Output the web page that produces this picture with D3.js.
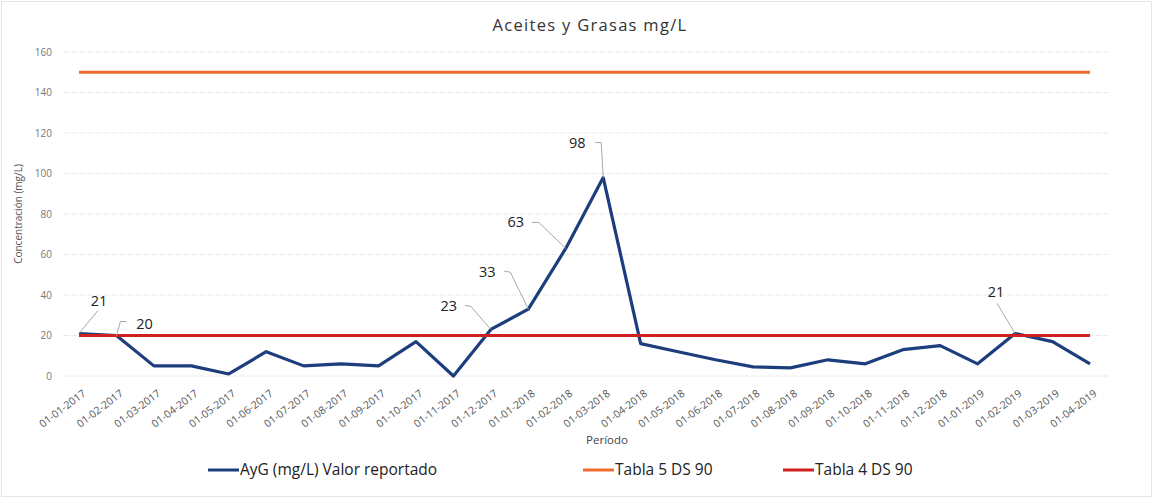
<!DOCTYPE html>
<html><head><meta charset="utf-8">
<script src="https://cdn.jsdelivr.net/npm/d3@7"></script>
<style>
body{margin:0;background:#fff;}
svg{display:block;font-family:"Open Sans",sans-serif;}
</style>
</head><body>
<svg id="chart" width="1161" height="504"></svg>
<script>
// ---- data ----
const periods = ["01-01-2017","01-02-2017","01-03-2017","01-04-2017","01-05-2017","01-06-2017","01-07-2017","01-08-2017","01-09-2017","01-10-2017","01-11-2017","01-12-2017","01-01-2018","01-02-2018","01-03-2018","01-04-2018","01-05-2018","01-06-2018","01-07-2018","01-08-2018","01-09-2018","01-10-2018","01-11-2018","01-12-2018","01-01-2019","01-02-2019","01-03-2019","01-04-2019"];
const aygValues = [21,20,5,5,1,12,5,6,5,17,0,23,33,63,98,16,12,8,4.5,4,8,6,13,15,6,21,17,6];
const tabla5Value = 150;
const tabla4Value = 20;
const yTicks = [0,20,40,60,80,100,120,140,160];
const labeledPoints = [0,1,11,12,13,14,25];
const seriesNames = ["AyG (mg/L) Valor reportado","Tabla 5 DS 90","Tabla 4 DS 90"];
const titleText = "Aceites y Grasas mg/L";
const xTitle = "Período";
const yTitle = "Concentración (mg/L)";

// ---- layout ----
const colors = {ayg:"#1d3e7c", t5:"#ee6b2d", t4:"#cf1f1f"};
const svg = d3.select("#chart");
const x = d3.scalePoint().domain(periods).range([79,1090]);
const y = d3.scaleLinear().domain([0,160]).range([376,52]);

// label layout: text centre offset, leader start, elbow (relative to point)
const labelLayout = {
  0:{tx:20,ty:-32,lx:19,ly:-23,ex:19,ey:-23},
  1:{tx:28,ty:-12,lx:10,ly:-14,ex:4,ey:-14},
  11:{tx:-42,ty:-23,lx:-26,ly:-24,ex:-20,ey:-23},
  12:{tx:-41,ty:-37,lx:-24,ly:-38,ex:-18,ey:-37},
  13:{tx:-50,ty:-26,lx:-34,ly:-26,ex:-27,ey:-26},
  14:{tx:-26,ty:-35,lx:-8,ly:-35,ex:-2,ey:-35},
  25:{tx:-19,ty:-41,lx:-18,ly:-30,ex:-18,ey:-30}
};

// border
svg.append("rect").attr("x",1.5).attr("y",1.5).attr("width",1150).attr("height",495)
  .attr("fill","none").attr("stroke","#e6e6e6");

// grid
svg.append("g").selectAll("line").data(yTicks).join("line")
  .attr("x1",63).attr("x2",1108)
  .attr("y1",d=>y(d)).attr("y2",d=>y(d))
  .attr("stroke","#e8e8e8").attr("stroke-width",1).attr("stroke-dasharray","6,2");

// y axis
const yAxis = svg.append("g").attr("transform","translate(54,0)")
  .call(d3.axisLeft(y).tickValues(yTicks).tickSize(0).tickPadding(2));
yAxis.select(".domain").remove();
yAxis.selectAll("text").attr("fill","#777").attr("font-size",10).attr("font-family","Open Sans");

// x axis
const xAxis = svg.append("g").attr("transform","translate(0,376)")
  .call(d3.axisBottom(x).tickSize(0));
xAxis.select(".domain").remove();
xAxis.selectAll("text")
  .attr("fill","#555").attr("font-size",10.5).attr("font-family","Open Sans")
  .attr("text-anchor","end").attr("dy",0).attr("y",0)
  .attr("transform","translate(7,19) rotate(-37)");

// series lines (later series drawn on top, as in the source)
const line = d3.line().x((d,i)=>x(periods[i])).y(d=>y(d));
svg.append("path").datum(aygValues).attr("d",line)
  .attr("fill","none").attr("stroke",colors.ayg).attr("stroke-width",3.2)
  .attr("stroke-linejoin","round");
svg.append("path").datum(periods.map(()=>tabla5Value)).attr("d",line)
  .attr("fill","none").attr("stroke",colors.t5).attr("stroke-width",3);
svg.append("path").datum(periods.map(()=>tabla4Value)).attr("d",line)
  .attr("fill","none").attr("stroke",colors.t4).attr("stroke-width",3);

// data labels
labeledPoints.forEach(i=>{
  const px = x(periods[i]), py = y(aygValues[i]);
  const L = labelLayout[i];
  svg.append("path")
    .attr("d",`M${px+L.lx},${py+L.ly}L${px+L.ex},${py+L.ey}L${px},${py}`)
    .attr("fill","none").attr("stroke","#a8a8a8").attr("stroke-width",1);
  svg.append("text").attr("x",px+L.tx).attr("y",py+L.ty+5)
    .attr("text-anchor","middle").attr("font-size",14.5).attr("fill","#222")
    .text(d3.format("d")(Math.round(aygValues[i])));
});

// titles
svg.append("text").attr("x",590).attr("y",31).attr("text-anchor","middle")
  .attr("font-size",16.5).attr("letter-spacing",1.3).attr("fill","#333").text(titleText);
svg.append("text").attr("x",607).attr("y",444).attr("text-anchor","middle")
  .attr("font-size",11.5).attr("fill","#444").text(xTitle);
svg.append("text").attr("transform","translate(22,214) rotate(-90)").attr("text-anchor","middle")
  .attr("font-size",10).attr("fill","#555").text(yTitle);

// legend
const legendItems = [
  {name:seriesNames[0], color:colors.ayg, x:208},
  {name:seriesNames[1], color:colors.t5, x:583},
  {name:seriesNames[2], color:colors.t4, x:783}
];
const lg = svg.append("g").selectAll("g").data(legendItems).join("g")
  .attr("transform",d=>`translate(${d.x},470)`);
lg.append("line").attr("x1",0).attr("x2",31).attr("y1",0).attr("y2",0)
  .attr("stroke",d=>d.color).attr("stroke-width",3);
lg.append("text").attr("x",32).attr("y",5).attr("font-size",15.5).attr("fill","#222")
  .text(d=>d.name);
</script>
</body></html>
